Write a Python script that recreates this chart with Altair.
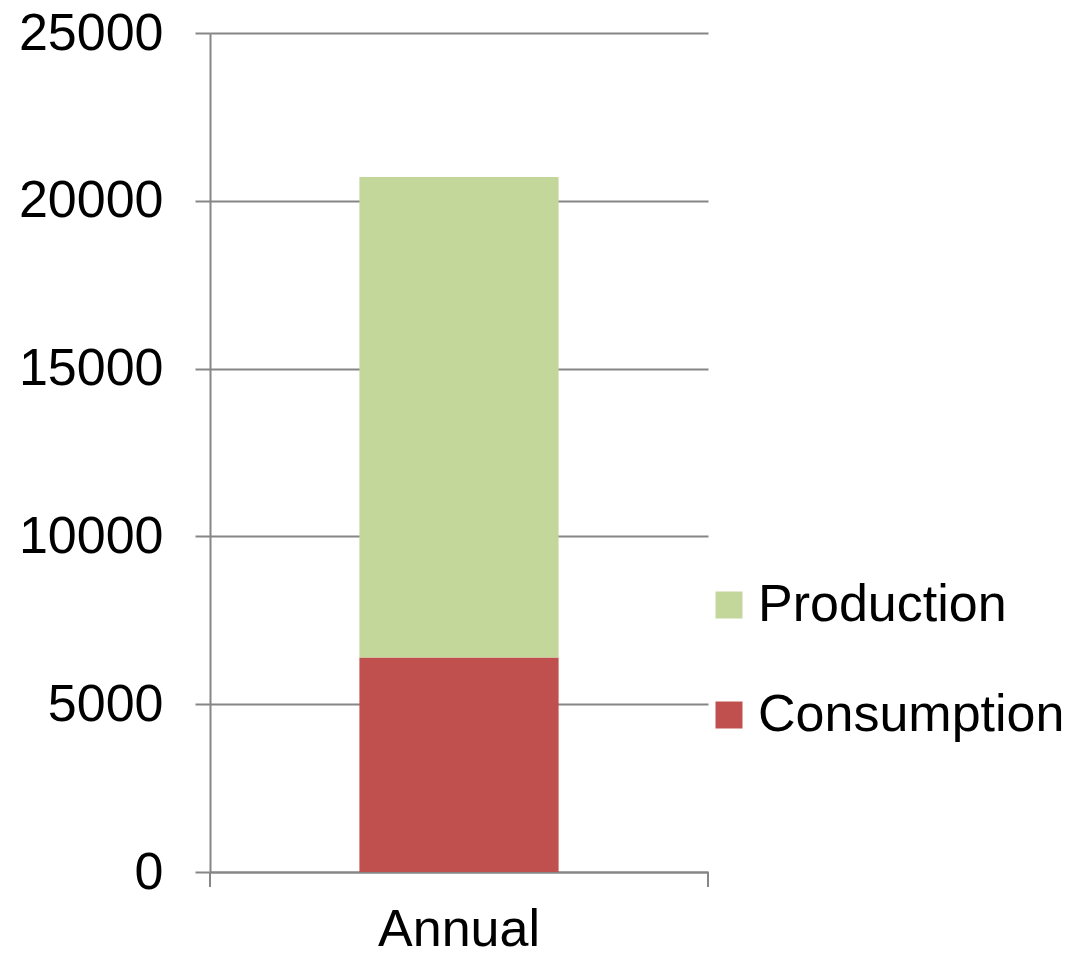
import altair as alt
import pandas as pd

categories = ["Annual", "Annual"]
series = ["Consumption", "Production"]
values = [6390, 14320]
stack_order = [0, 1]

legend_order = ["Production", "Consumption"]
colors = ["#C4D79B", "#C0504D"]
y_ticks = [0, 5000, 10000, 15000, 20000, 25000]

df = pd.DataFrame({"category": categories, "series": series, "value": values, "ord": stack_order})

FONT = "Liberation Sans"
GRAY = "#868686"
FS = 52

bars = alt.Chart(df).mark_bar().encode(
    x=alt.X("category:N", title=None,
            scale=alt.Scale(paddingInner=0.6, paddingOuter=0.3),
            axis=alt.Axis(labelAngle=0, labelFontSize=FS, labelFont=FONT, labelColor="black",
                          ticks=False, tickSize=0, labelPadding=32,
                          domainColor=GRAY, domainWidth=2, grid=False)),
    y=alt.Y("value:Q", stack="zero", title=None,
            scale=alt.Scale(domain=[0, 25000], nice=False),
            axis=alt.Axis(values=y_ticks, format="d", labelFontSize=FS, labelFont=FONT,
                          labelColor="black",
                          tickSize=15, tickColor=GRAY, tickWidth=2, labelPadding=32,
                          domainColor=GRAY, domainWidth=2,
                          grid=True, gridColor=GRAY, gridWidth=2)),
    color=alt.Color("series:N", scale=alt.Scale(domain=legend_order, range=colors),
                    legend=alt.Legend(title=None, orient="none", legendX=493, legendY=546,
                                      symbolType="square", symbolSize=729, symbolStrokeWidth=0,
                                      labelFontSize=FS, labelFont=FONT, labelColor="black",
                                      labelLimit=0,
                                      labelOffset=3, rowPadding=58, padding=0)),
    order=alt.Order("ord:Q"),
)

ticks_df = pd.DataFrame({"pos": [0, 1]})
ext_ticks = alt.Chart(ticks_df).mark_rule(color=GRAY, strokeWidth=2).encode(
    x=alt.X("pos:Q", scale=alt.Scale(domain=[0, 1], range=[0, 498]), axis=None),
    y=alt.value(839),
    y2=alt.value(854),
)

chart = alt.layer(bars, ext_ticks).resolve_scale(x="independent").properties(
    width=498, height=839,
    autosize=alt.AutoSizeParams(type="none"),
    padding={"left": 210, "top": 33, "right": 362, "bottom": 85},
).configure_view(stroke=None)

chart.save("out.html", embed_options={"renderer": "svg", "actions": False})
